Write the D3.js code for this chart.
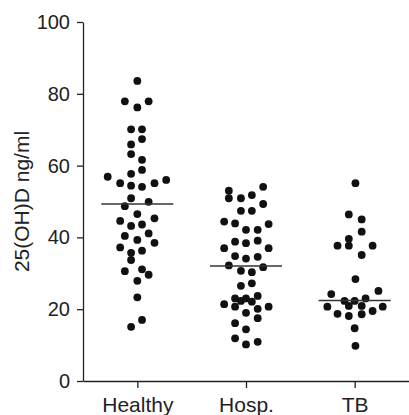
<!DOCTYPE html>
<html>
<head>
<meta charset="utf-8">
<script src="https://cdn.jsdelivr.net/npm/d3@7"></script>
<style>
  body { margin: 0; background: #fff; }
  svg { display: block; }
  text { font-family: "Liberation Sans", Arial, Helvetica, sans-serif; fill: #222; }
</style>
</head>
<body>
<div id="chart"></div>
<script>
// groups on the x axis
var groups = ["Healthy", "Hosp.", "TB"];
var yTicks = [0, 20, 40, 60, 80, 100];

// 25(OH)D values, with horizontal spread in dot widths
var healthyValues = [83.6, 77.9, 77.9, 76.2, 70.1, 70.1, 67.4, 65.9, 63.2, 61.6, 58.8, 57.7, 56.9, 56.0,
  55.1, 54.4, 54.1, 55.1, 50.9, 49.9, 48.7, 46.5, 45.3, 44.6, 43.6, 43.2, 41.1, 40.4, 39.3, 38.5,
  37.2, 36.3, 35.7, 33.7, 31.1, 30.6, 29.6, 27.9, 23.3, 17.0, 15.1];
var healthySpread = [0, -1.6, 1.45, 0, -0.8, 0.6, 0.6, -0.8, -0.8, 0.6, 0.6, -0.8, -3.8, 3.7,
  -2.2, -0.8, 0.6, 2.2, -0.8, 1.45, -1.6, 0, 2.2, -2.2, 0.6, -0.8, 1.45, -1.6, 0, 2.2,
  -2.2, 0.6, -0.8, -0.8, 0.6, -1.6, 1.45, 0, 0, 0.6, -0.8];

var hospValues = [53.0, 50.9, 54.1, 50.9, 51.8, 47.4, 47.4, 49.3, 44.4, 43.9, 42.1, 42.1, 43.7,
  38.8, 38.4, 39.1, 37.0, 37.0, 34.8, 34.1, 34.6, 32.2, 31.7, 30.7, 30.3, 26.5, 27.2,
  21.4, 23.0, 23.0, 23.7, 22.3, 22.1, 20.7, 19.0, 20.1, 20.7, 17.5, 16.1, 14.4, 11.9, 10.2, 10.9];
var hospSpread = [-2.2, -2.2, 2.2, -0.65, 0.75, -0.65, 0.75, 2.2, -2.8, -1.4, 0, 1.5, 2.9,
  -1.4, 0, 1.5, -2.8, 2.9, -1.4, 0, 1.5, -2.2, 2.2, -0.65, 0.75, -0.65, 0.75,
  -2.8, -1.4, 0, 1.5, -0.65, 0.75, -1.4, 0, 1.5, 2.9, 1.5, -1.4, 0, -1.4, 0, 1.5];

var tbValues = [55.1, 46.4, 45.0, 41.6, 39.6, 37.7, 37.7, 37.7, 35.1, 28.4, 24.2, 25.1, 22.3, 22.3,
  23.0, 20.7, 20.9, 20.9, 20.7, 19.5, 18.7, 18.1, 18.6, 14.7, 9.8];
var tbSpread = [0.1, -0.75, 0.9, 0.9, -0.75, -2.2, -0.75, 2.3, 0.9, 0.1, -3.0, 3.05, -1.3, 0,
  1.4, -3.5, -0.75, 0.9, 3.6, 2.3, -2.2, -0.75, 0.9, 0, 0.1];

// horizontal bar in each group (group mean / median)
var centreValues = [49.3, 32.0, 22.4];

var width = 409, height = 415;
var margin = { top: 22, right: 0, bottom: 34, left: 83 };
var dotR = 3.9;

var svg = d3.select("#chart").append("svg")
  .attr("width", width)
  .attr("height", height);

var x = d3.scalePoint()
  .domain(groups)
  .range([margin.left, width - margin.right])
  .padding(0.5);

var y = d3.scaleLinear()
  .domain([0, 100])
  .range([height - margin.bottom, margin.top]);

// spread in dot widths -> pixels
var spread = d3.scaleLinear().domain([0, 1]).range([0, dotR * 2]);

// y axis
var yAxis = svg.append("g")
  .attr("transform", "translate(" + margin.left + ",0)")
  .call(d3.axisLeft(y).tickValues(yTicks).tickSize(6).tickPadding(7).tickSizeOuter(0));
yAxis.select(".domain").attr("stroke", "#222").attr("stroke-width", 1.3);
yAxis.selectAll(".tick line").attr("stroke", "#222").attr("stroke-width", 1.3);
yAxis.selectAll(".tick text").style("font-size", "20px").attr("fill", "#222");

// x axis
var xAxis = svg.append("g")
  .attr("transform", "translate(0," + y(0) + ")")
  .call(d3.axisBottom(x).tickSize(7).tickPadding(9).tickSizeOuter(0));
xAxis.select(".domain").attr("stroke", "#222").attr("stroke-width", 1.3);
xAxis.selectAll(".tick line").attr("stroke", "#222").attr("stroke-width", 1.3);
xAxis.selectAll(".tick text").style("font-size", "21px").attr("fill", "#222");

// y label
svg.append("text")
  .attr("transform", "translate(29," + ((y(0) + y(100)) / 2) + ") rotate(-90)")
  .attr("text-anchor", "middle")
  .style("font-size", "21px")
  .text("25(OH)D ng/ml");

var series = [
  { name: "Healthy", values: healthyValues, spread: healthySpread },
  { name: "Hosp.", values: hospValues, spread: hospSpread },
  { name: "TB", values: tbValues, spread: tbSpread }
];

series.forEach(function(s, k) {
  var pts = s.values.map(function(v, i) { return { v: v, j: s.spread[i] }; });

  svg.append("g").selectAll("circle")
    .data(pts)
    .enter()
    .append("circle")
    .attr("cx", function(d) { return x(s.name) + spread(d.j); })
    .attr("cy", function(d) { return y(d.v); })
    .attr("r", dotR)
    .attr("fill", "#111");

  svg.append("line")
    .attr("x1", x(s.name) - 36)
    .attr("x2", x(s.name) + 36)
    .attr("y1", y(centreValues[k]))
    .attr("y2", y(centreValues[k]))
    .attr("stroke", "#333")
    .attr("stroke-width", 1.5);
});
</script>
</body>
</html>
